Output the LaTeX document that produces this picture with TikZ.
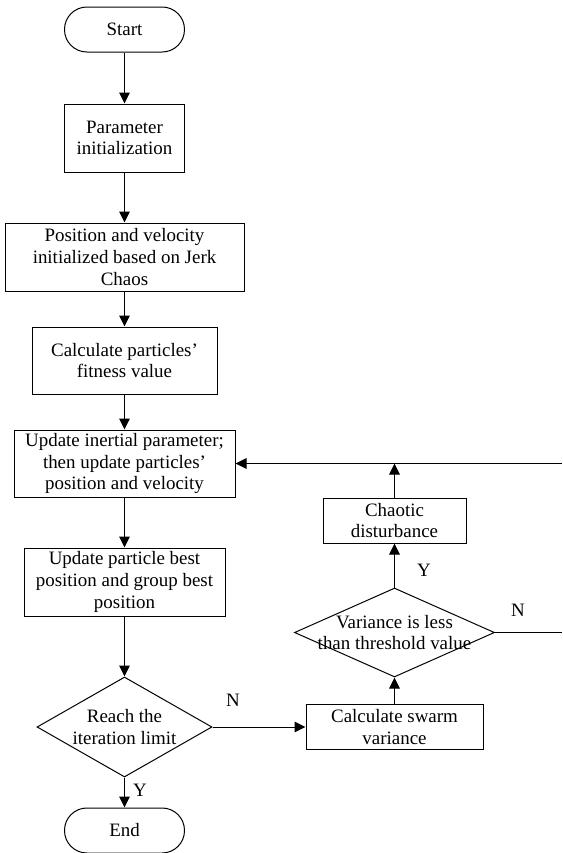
\documentclass[tikz,border=0pt]{standalone}
\usepackage{fontspec}
\setmainfont{Liberation Serif}
\usetikzlibrary{arrows.meta,shapes.geometric}

\begin{document}
\begin{tikzpicture}[x=0.75pt,y=0.75pt,yscale=-1,xscale=1,line width=0.75pt,
  every node/.style={inner sep=0pt,align=center,font=\fontsize{14.2}{16.2}\selectfont},
  term/.style={draw,rounded corners=16.8pt,minimum width=90pt,minimum height=33.75pt},
  box/.style={draw},
  decision/.style={draw,diamond},
  flow/.style={-{Triangle[length=8.25pt,width=8pt]}}]
\useasboundingbox (0,0) rectangle (562,853);

%Shape: Rounded Rect [id:start]
\node [term] (start) at (124.5,29.5) {Start};
%Shape: Rectangle [id:param]
\node [box,minimum width=90pt,minimum height=51pt] (param) at (124.5,138) {Parameter\\initialization};
%Shape: Rectangle [id:pos]
\node [box,minimum width=179.25pt,minimum height=51pt] (pos) at (124.5,257) {Position and velocity\\initialized based on Jerk\\Chaos};
%Shape: Rectangle [id:fit]
\node [box,minimum width=138.75pt,minimum height=50.25pt] (fit) at (124.5,360.5) {Calculate particles’\\fitness value};
%Shape: Rectangle [id:upd]
\node [box,minimum width=165.75pt,minimum height=50.25pt] (upd) at (124.5,463.5) {Update inertial parameter;\\then update particles’\\position and velocity};
%Shape: Rectangle [id:best]
\node [box,minimum width=150.75pt,minimum height=51pt] (best) at (124.5,582) {Update particle best\\position and group best\\position};
%Shape: Diamond [id:iter]
\node [decision,minimum width=131.25pt,minimum height=75pt] (iter) at (124.5,727) {\makebox[0pt]{Reach the}\\\makebox[0pt]{iteration limit}};
%Shape: Rounded Rect [id:end]
\node [term] (end) at (124.5,830.5) {End};
%Shape: Rectangle [id:var]
\node [box,minimum width=132.75pt,minimum height=33.75pt] (var) at (394.5,727) {Calculate swarm\\variance};
%Shape: Diamond [id:thr]
\node [decision,minimum width=150pt,minimum height=66.75pt] (thr) at (394.5,632.5) {\makebox[0pt]{Variance is less}\\\makebox[0pt]{than threshold value}};
%Shape: Rectangle [id:chaos]
\node [box,minimum width=107.25pt,minimum height=33.75pt] (chaos) at (394.5,520.5) {Chaotic\\disturbance};

\coordinate (back) at (562,463.5);
\coordinate (out) at (562,632.5);

%Straight Lines
\draw [flow] (start) -- (param);
\draw [flow] (param) -- (pos);
\draw [flow] (pos) -- (fit);
\draw [flow] (fit) -- (upd);
\draw [flow] (upd) -- (best);
\draw [flow] (best) -- (iter);
\draw [flow] (iter) -- (end);
\draw [flow] (iter) -- (var);
\draw [flow] (var) -- (thr);
\draw [flow] (thr) -- (chaos);
\draw [flow] (chaos) -- (chaos |- back);
\draw [flow] (back) -- (upd.east);
\draw (thr) -- (out);

% Text Node
\node (n1) at (233,700) {N};
% Text Node
\node (y1) at (140,790) {Y};
% Text Node
\node (y2) at (424,570) {Y};
% Text Node
\node (n2) at (518,610) {N};
\end{tikzpicture}
\end{document}
